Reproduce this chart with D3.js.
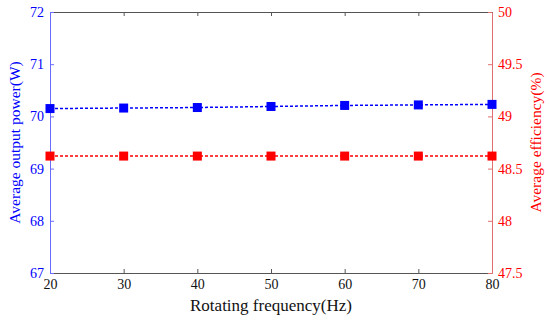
<!DOCTYPE html>
<html>
<head>
<meta charset="utf-8">
<script src="https://cdn.jsdelivr.net/npm/d3@7"></script>
<style>
  body { margin: 0; background: #fff; }
  text { font-family: "Liberation Serif", "Times New Roman", serif; }
</style>
</head>
<body>
<svg id="chart"></svg>
<script>
const freq = [20, 30, 40, 50, 60, 70, 80];
const power = [70.15, 70.16, 70.17, 70.19, 70.21, 70.22, 70.23];
const efficiency = [48.62, 48.62, 48.62, 48.62, 48.62, 48.62, 48.62];
const powerTicks = [67, 68, 69, 70, 71, 72];
const effTicks = [47.5, 48, 48.5, 49, 49.5, 50];

let margin = {top: 12, right: 58, bottom: 48, left: 50};
let W = 550, H = 321;
let widthChart = W - margin.left - margin.right;
let heightChart = H - margin.top - margin.bottom;

let svg = d3.select("#chart").attr("width", W).attr("height", H);
let chart = svg.append("g").attr("transform", "translate(" + margin.left + "," + margin.top + ")");

let x = d3.scaleLinear().domain([20, 80]).range([0, widthChart]);
let yL = d3.scaleLinear().domain([67, 72]).range([heightChart, 0]);
let yR = d3.scaleLinear().domain([47.5, 50]).range([heightChart, 0]);

const blue = "#0000ff", red = "#ff0000";
const blueAxis = "#6b6bff", redAxis = "#e07070", grey = "#555";
const fmt = d3.format("~g");

// x axes (bottom + top, ticks inward)
let xb = chart.append("g").attr("transform", "translate(0," + heightChart + ")")
  .call(d3.axisBottom(x).tickValues(freq).tickSizeInner(-4).tickSizeOuter(0).tickPadding(6));
xb.select(".domain").attr("stroke", grey);
xb.selectAll(".tick line").attr("stroke", grey);
xb.selectAll("text").attr("font-size", 14).attr("fill", "#111");

let xt = chart.append("g")
  .call(d3.axisTop(x).tickValues(freq).tickSizeInner(-4).tickSizeOuter(0).tickFormat(""));
xt.select(".domain").attr("stroke", grey);
xt.selectAll(".tick line").attr("stroke", grey);

// left axis
let yl = chart.append("g")
  .call(d3.axisLeft(yL).tickValues(powerTicks).tickFormat(fmt).tickSizeInner(-4).tickSizeOuter(0).tickPadding(6));
yl.select(".domain").attr("stroke", blueAxis);
yl.selectAll(".tick line").attr("stroke", blueAxis);
yl.selectAll("text").attr("font-size", 14).attr("fill", blue);

// right axis
let yr = chart.append("g").attr("transform", "translate(" + widthChart + ",0)")
  .call(d3.axisRight(yR).tickValues(effTicks).tickFormat(fmt).tickSizeInner(-4).tickSizeOuter(0).tickPadding(6));
yr.select(".domain").attr("stroke", redAxis);
yr.selectAll(".tick line").attr("stroke", redAxis);
yr.selectAll("text").attr("font-size", 14).attr("fill", red);

// series
function drawSeries(vals, scale, color) {
  let pts = freq.map((f, i) => [f, vals[i]]);
  chart.append("path").datum(pts)
    .attr("fill", "none").attr("stroke", color)
    .attr("stroke-width", 1.5).attr("stroke-dasharray", "3,2")
    .attr("d", d3.line().x(d => x(d[0])).y(d => scale(d[1])));
  chart.selectAll(null).data(pts).enter().append("rect")
    .attr("x", d => x(d[0]) - 4.5).attr("y", d => scale(d[1]) - 4.5)
    .attr("width", 9).attr("height", 9).attr("fill", color);
}
drawSeries(efficiency, yR, red);
drawSeries(power, yL, blue);

// labels
chart.append("text").text("Rotating frequency(Hz)")
  .attr("x", widthChart / 2).attr("y", heightChart + 38)
  .attr("text-anchor", "middle").attr("font-size", 17).attr("fill", "#111");

chart.append("text").text("Average output power(W)")
  .attr("transform", "translate(-30," + (heightChart / 2) + ") rotate(-90)")
  .attr("text-anchor", "middle").attr("font-size", 15.5).attr("fill", blue);

chart.append("text").text("Average efficiency(%)")
  .attr("transform", "translate(" + (widthChart + 49) + "," + (heightChart / 2) + ") rotate(-90)")
  .attr("text-anchor", "middle").attr("font-size", 15.5).attr("fill", red);
</script>
</body>
</html>
